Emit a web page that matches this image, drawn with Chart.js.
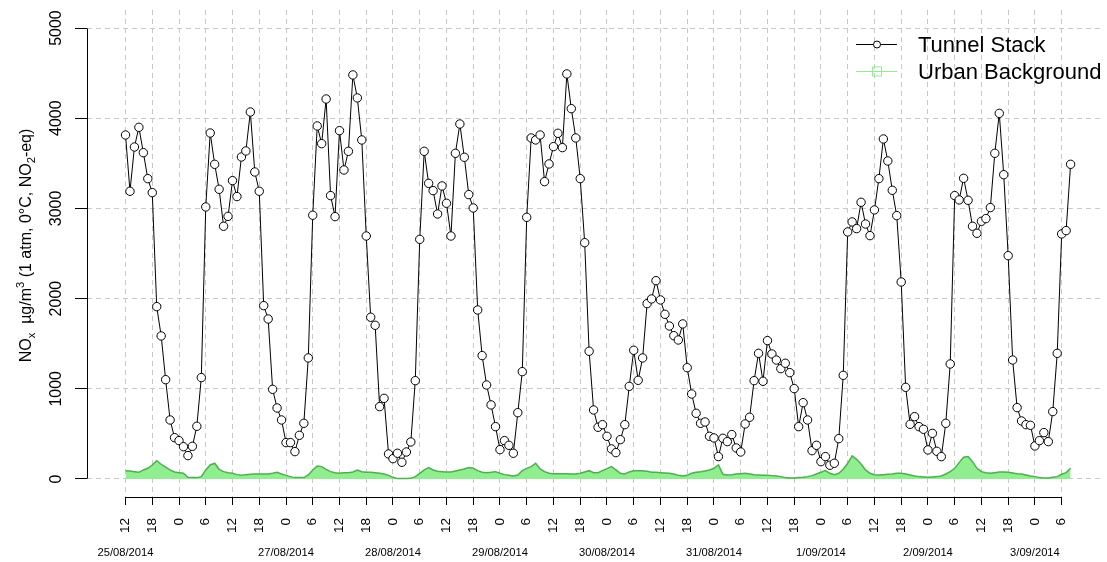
<!DOCTYPE html>
<html>
<head>
<meta charset="utf-8">
<script src="https://cdn.jsdelivr.net/npm/chart.js@4.4.1/dist/chart.umd.min.js"></script>
<style>
  html, body { margin: 0; padding: 0; background: #fff; }
</style>
</head>
<body>
<canvas id="noxChart" width="1107" height="562"></canvas>
<script>
// hourly NOx, first value is 25/08/2014 12:00 (hours counted from 25/08 00:00)
const firstHour = 12;

const tunnelStack = [
  3814, 3190, 3681, 3899, 3618, 3330, 3175, 1911, 1586, 1101, 654, 458,
  425, 358, 259, 362, 584, 1124, 3016, 3836, 3489, 3212, 2802, 2912,
  3308, 3131, 3570, 3637, 4069, 3404, 3190, 1922, 1774, 994, 787, 654,
  403, 403, 303, 484, 617, 1342, 2924, 3914, 3718, 4213, 3142, 2909,
  3862, 3426, 3633, 4480, 4225, 3759, 2694, 1793, 1704, 802, 894, 277,
  225, 285, 185, 299, 410, 1090, 2657, 3633, 3278, 3197, 2938, 3249,
  3057, 2694, 3611, 3936, 3567, 3153, 3005, 1874, 1368, 1042, 821, 580,
  325, 425, 373, 285, 735, 1190, 2901, 3781, 3759, 3814, 3297, 3493,
  3685, 3833, 3674, 4491, 4106, 3781, 3330, 2620, 1416, 765, 573, 602,
  473, 333, 292, 436, 602, 1027, 1427, 1094, 1342, 1944, 1996, 2199,
  1985, 1826, 1696, 1589, 1541, 1719, 1234, 942, 728, 617, 632, 473,
  455, 248, 451, 414, 492, 344, 299, 610, 684, 1090, 1393, 1083,
  1534, 1386, 1319, 1223, 1283, 1179, 1002, 580, 846, 654, 314, 373,
  192, 248, 152, 174, 447, 1149, 2739, 2850, 2776, 3068, 2827, 2698,
  2983, 3330, 3770, 3526, 3201, 2920, 2184, 1016, 606, 691, 580, 551,
  322, 506, 307, 248, 617, 1275, 3142, 3094, 3334, 3090, 2802, 2724,
  2857, 2887, 3009, 3611, 4054, 3374, 2476, 1319, 791, 643, 602, 595,
  366, 425, 514, 414, 747, 1393, 2717, 2754, 3489
];

const urbanBackground = [
  92, 89, 81, 74, 100, 118, 155, 203, 163, 130, 100, 78,
  70, 63, 18, 15, 15, 26, 100, 155, 174, 107, 81, 70,
  63, 48, 40, 48, 52, 55, 55, 55, 55, 63, 74, 55,
  40, 26, 15, 15, 15, 44, 100, 144, 137, 107, 81, 70,
  63, 70, 70, 78, 100, 81, 74, 74, 70, 63, 55, 40,
  18, 4, 4, 4, 7, 26, 63, 100, 126, 100, 85, 81,
  78, 78, 89, 100, 111, 126, 118, 92, 74, 70, 74, 81,
  63, 48, 40, 33, 44, 92, 118, 137, 174, 111, 81, 63,
  59, 59, 59, 59, 55, 55, 63, 78, 92, 70, 70, 92,
  115, 137, 100, 63, 55, 78, 92, 92, 92, 85, 74, 74,
  70, 67, 63, 55, 40, 33, 40, 63, 75, 81, 89, 100,
  118, 155, 52, 44, 48, 55, 59, 63, 55, 48, 44, 40,
  40, 37, 33, 26, 15, 11, 11, 15, 18, 26, 37, 55,
  74, 92, 63, 48, 63, 107, 174, 255, 218, 166, 100, 63,
  48, 44, 48, 52, 55, 63, 63, 55, 44, 33, 26, 22,
  18, 22, 26, 33, 55, 81, 118, 181, 240, 248, 192, 118,
  81, 70, 63, 70, 78, 78, 74, 67, 59, 55, 44, 33,
  26, 15, 11, 11, 18, 26, 52, 70, 118
];

// x ticks every 6 h, 25/08 12:00 .. 3/09 06:00
const xTickHours = [12, 18, 24, 30, 36, 42, 48, 54, 60, 66, 72, 78, 84, 90, 96, 102,
  108, 114, 120, 126, 132, 138, 144, 150, 156, 162, 168, 174, 180, 186, 192, 198,
  204, 210, 216, 222];
const yTickValues = [0, 1000, 2000, 3000, 4000, 5000];

const dateLabelHours = [12, 48, 72, 96, 120, 144, 168, 192, 216];
const dateLabels = ['25/08/2014', '27/08/2014', '28/08/2014', '29/08/2014', '30/08/2014',
  '31/08/2014', '1/09/2014', '2/09/2014', '3/09/2014'];

const FONT = '"Liberation Sans", Arial, sans-serif';
const toPoints = arr => arr.map((v, i) => ({ x: firstHour + i, y: v }));
const align = v => Math.round(v - 0.5) + 0.5;

// R-style extras: short axis lines, date row, y title with sub/superscripts, legend
const rPlot = {
  id: 'rPlot',
  afterDraw(chart) {
    const { ctx, chartArea: area, scales: { x, y } } = chart;
    ctx.save();
    ctx.strokeStyle = '#000';
    ctx.lineWidth = 1;
    ctx.setLineDash([]);

    // axis lines
    const ax = align(area.left);
    ctx.beginPath();
    ctx.moveTo(ax, align(y.getPixelForValue(yTickValues[0])));
    ctx.lineTo(ax, align(y.getPixelForValue(yTickValues[yTickValues.length - 1])));
    const ay = align(area.bottom);
    ctx.moveTo(align(x.getPixelForValue(xTickHours[0])), ay);
    ctx.lineTo(align(x.getPixelForValue(xTickHours[xTickHours.length - 1])), ay);
    ctx.stroke();

    // dates
    ctx.fillStyle = '#000';
    ctx.font = '11.2px ' + FONT;
    ctx.textAlign = 'center';
    ctx.textBaseline = 'alphabetic';
    dateLabelHours.forEach((h, i) => {
      ctx.fillText(dateLabels[i], x.getPixelForValue(h), 556);
    });

    // y title
    const parts = [
      ['NO', 0, 1], ['x', 4, 0.7], ['  \u00b5g/m', 0, 1], ['3', -7, 0.7],
      [' (1 atm, 0\u00b0C, NO', 0, 1], ['2', 4, 0.7], ['-eq)', 0, 1]
    ];
    const size = 16;
    let total = 0;
    parts.forEach(p => {
      ctx.font = (size * p[2]) + 'px ' + FONT;
      p.push(ctx.measureText(p[0]).width);
      total += p[3];
    });
    ctx.save();
    ctx.translate(31, (y.getPixelForValue(-200) + y.getPixelForValue(5200)) / 2 - 8);
    ctx.rotate(-Math.PI / 2);
    ctx.textAlign = 'left';
    let cx = -total / 2;
    parts.forEach(p => {
      ctx.font = (size * p[2]) + 'px ' + FONT;
      ctx.fillText(p[0], cx, p[1]);
      cx += p[3];
    });
    ctx.restore();

    // legend
    const sets = chart.data.datasets;
    const rows = [44, 71];
    ctx.font = '22px ' + FONT;
    ctx.textAlign = 'left';
    ctx.fillStyle = '#000';
    ctx.fillText(sets[0].label, 918, 52);
    ctx.fillText(sets[1].label, 918, 78.5);

    ctx.strokeStyle = '#000';
    ctx.beginPath();
    ctx.moveTo(856, rows[0] + 0.5);
    ctx.lineTo(897, rows[0] + 0.5);
    ctx.stroke();
    ctx.fillStyle = '#fff';
    ctx.beginPath();
    ctx.arc(877, rows[0] + 0.5, 3.5, 0, Math.PI * 2);
    ctx.fill();
    ctx.stroke();

    ctx.strokeStyle = '#90ee90';
    ctx.beginPath();
    ctx.moveTo(856, rows[1] + 0.5);
    ctx.lineTo(897, rows[1] + 0.5);
    ctx.stroke();
    ctx.strokeRect(872.5, rows[1] - 4, 9, 9);
    ctx.restore();
  }
};

const noPad = s => { s.paddingLeft = 0; s.paddingRight = 0; s.paddingTop = 0; s.paddingBottom = 0; };

new Chart(document.getElementById('noxChart').getContext('2d'), {
  type: 'line',
  data: {
    datasets: [{
      label: 'Tunnel Stack',
      data: toPoints(tunnelStack),
      borderColor: '#000',
      borderWidth: 1,
      pointRadius: 4.2,
      pointBorderWidth: 1,
      pointBorderColor: '#000',
      pointBackgroundColor: '#fff',
      fill: false,
      tension: 0,
      order: 0
    }, {
      label: 'Urban Background',
      data: toPoints(urbanBackground),
      borderColor: '#4cb04c',
      borderWidth: 1.5,
      backgroundColor: '#90ee90',
      fill: 'origin',
      pointRadius: 0,
      tension: 0,
      order: 1
    }]
  },
  options: {
    responsive: false,
    animation: false,
    layout: { padding: { top: 10, left: 0, right: 0, bottom: 0 } },
    plugins: { legend: { display: false }, tooltip: { enabled: false } },
    scales: {
      x: {
        type: 'linear',
        min: 3.36,
        max: 231,
        afterBuildTicks: s => { s.ticks = xTickHours.map(v => ({ value: v })); },
        afterFit: s => { s.height = 65; noPad(s); },
        ticks: {
          autoSkip: false,
          minRotation: 90,
          maxRotation: 90,
          padding: 13,
          color: '#000',
          font: { family: FONT, size: 13.5 },
          callback: v => String(v % 24)
        },
        grid: { color: '#c8c8c8', tickColor: '#000', tickLength: 8, tickBorderDash: [] },
        border: { display: false, dash: [5, 4] }
      },
      y: {
        min: -200,
        max: 5200,
        afterBuildTicks: s => { s.ticks = yTickValues.map(v => ({ value: v })); },
        afterFit: s => { s.width = 87; noPad(s); },
        ticks: {
          minRotation: 90,
          maxRotation: 90,
          crossAlign: 'center',
          padding: 1,
          color: '#000',
          font: { family: FONT, size: 16 },
          callback: v => String(v)
        },
        grid: { color: '#c8c8c8', tickColor: '#000', tickLength: 12, tickBorderDash: [] },
        border: { display: false, dash: [5, 4] }
      }
    }
  },
  plugins: [rPlot]
});
</script>
</body>
</html>
